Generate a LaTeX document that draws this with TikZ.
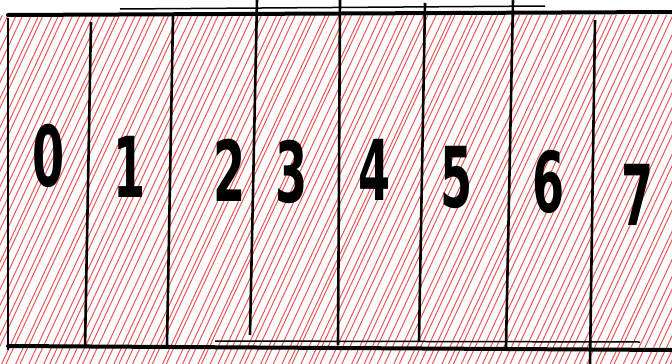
\documentclass[tikz,border=0pt]{standalone}
\usepackage{fontspec}
\setsansfont{DejaVu Sans}
\usepackage{tikz}
\definecolor{hatchred}{RGB}{232,88,88}

\begin{document}
\begin{tikzpicture}[x=1pt,y=-1pt,
        hatch/.style={draw=hatchred,line width=1pt},
        divider/.style={draw=black,line width=2.6pt},
        rim/.style={draw=black,line width=4pt,line cap=round},
        digit/.style={font=\fontsize{84}{84}\selectfont\sffamily\bfseries,xscale=0.55,inner sep=0pt}]
        \useasboundingbox (0,0) rectangle (672,364);
        \fill[white] (0,0) rectangle (672,364);

        % red hatching
        \pgfmathsetseed{7}
        \begin{scope}
            \clip (0,15) rectangle (672,364);
            \foreach \k in {0,...,122} {
                \pgfmathsetmacro{\xs}{-175+\k*7+2*rand}
                \draw[hatch] (\xs,364) -- ++(170,-364);
            }
        \end{scope}

        % top and bottom rims
        \draw[rim] (8,15) -- (672,12);
        \draw[black,line width=1.5pt] (120,9) -- (545,6);
        \draw[rim] (8,346) -- (672,350);
        \draw[black,line width=1.5pt] (215,341) -- (640,342);

        % cell walls
        \foreach \xa/\ya/\xb/\yb in {8/18/8/350, 91/22/85/348, 173/16/167/345,
                257/0/250/335, 340/0/338/345, 425/3/419/341,
                513/0/506/347, 595/20/590/364}
            \draw[divider] (\xa,\ya) -- (\xb,\yb);

        % cell numbers
        \foreach \d/\x/\y in {0/49/156, 1/130/167, 2/230/170, 3/292/172,
                4/375/170, 5/457/177, 6/549/182, 7/638/195}
            \node[digit] (d\d) at (\x,\y) {\d};
    \end{tikzpicture}
\end{document}
